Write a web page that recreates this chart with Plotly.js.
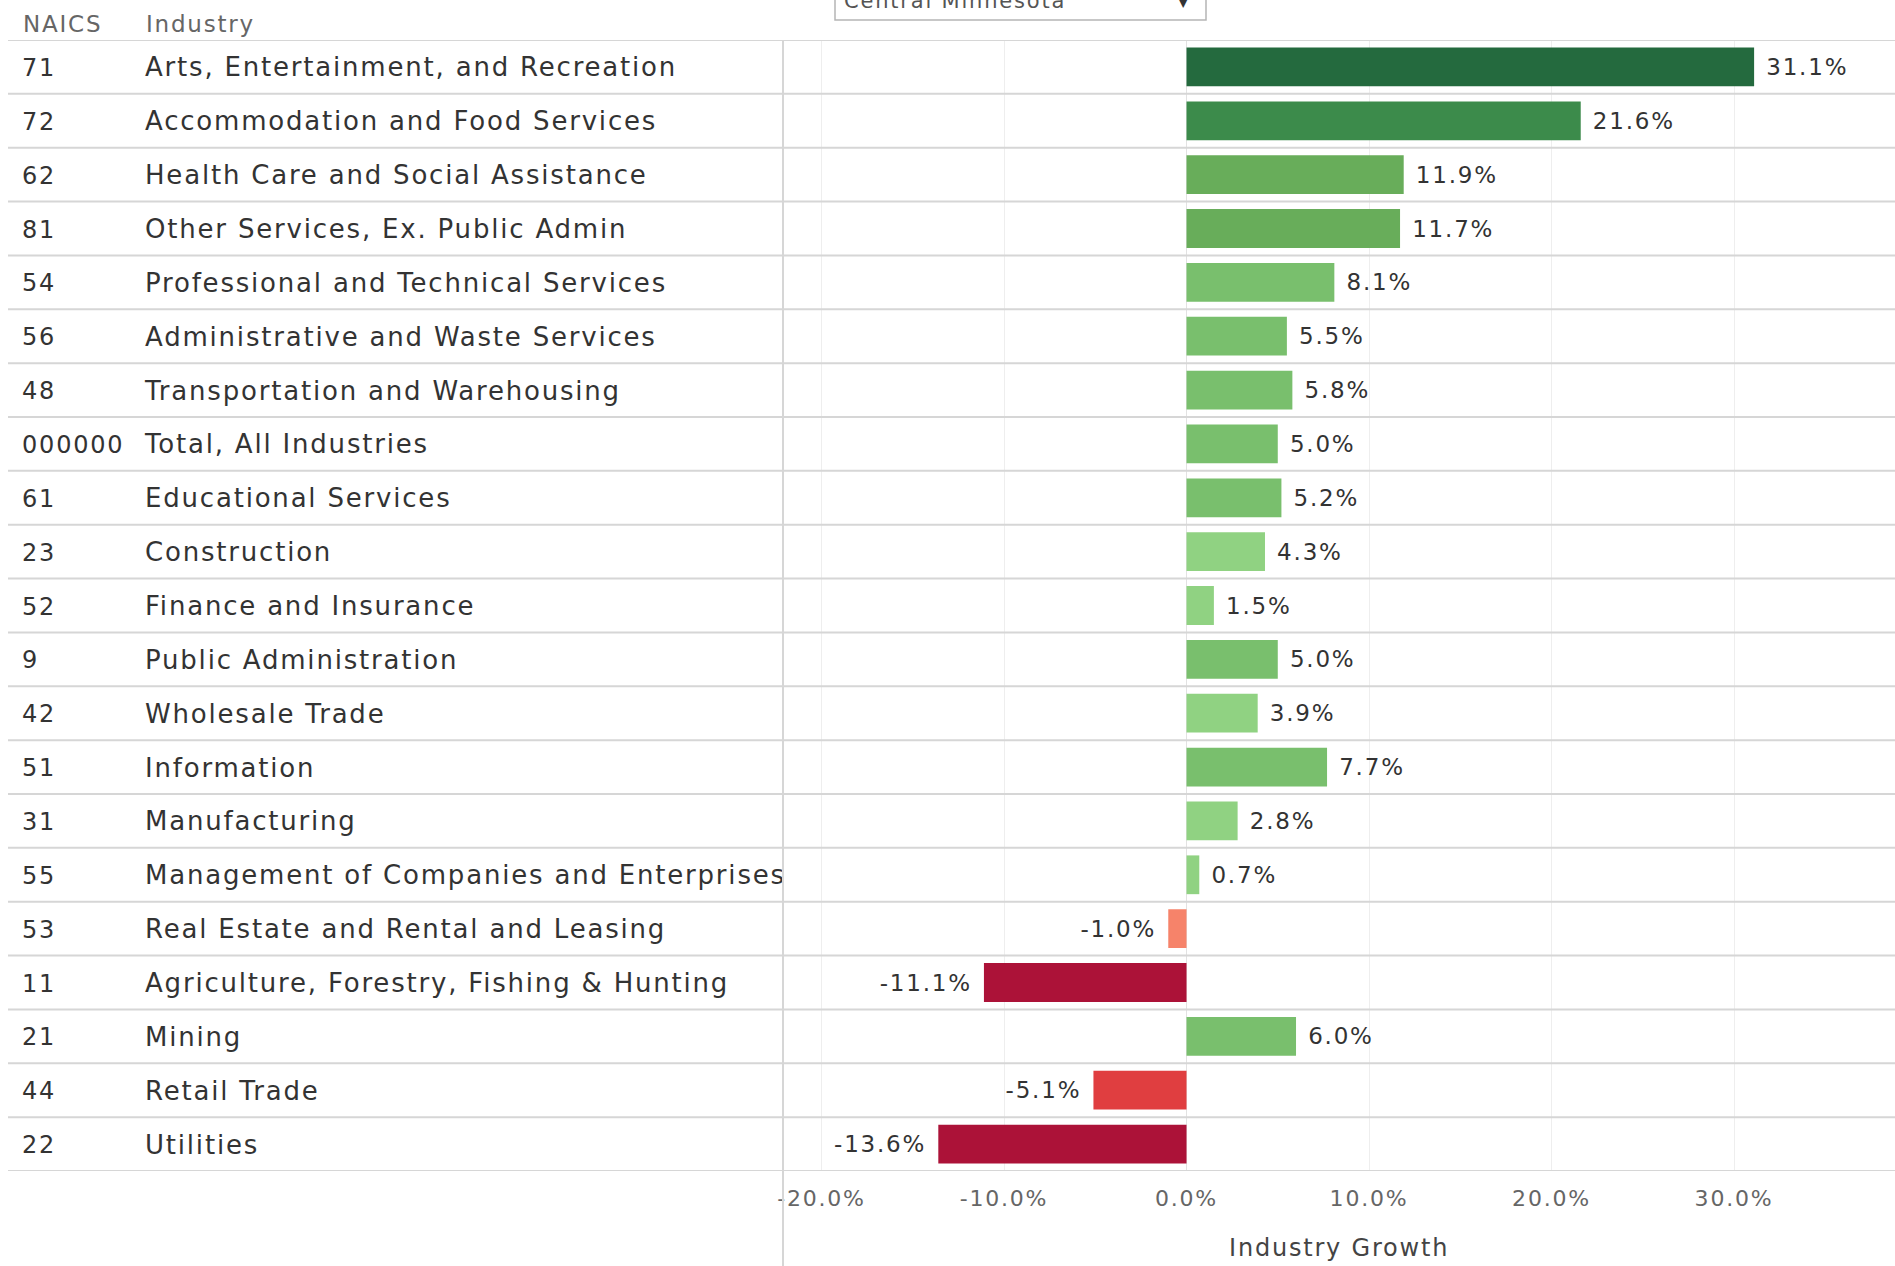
<!DOCTYPE html>
<html>
<head>
<meta charset="utf-8">
<script src="https://cdn.plot.ly/plotly-3.0.1.min.js"></script>
<style>
  html, body { margin: 0; padding: 0; background: #ffffff; }
  #chart { width: 1895px; height: 1266px; }
  svg text { letter-spacing: 1.8px; }
  .textpoint text { transform: translateY(3px); }
</style>
</head>
<body>
<div id="chart"></div>
<script>
// ---- data ----
const naics = ['71','72','62','81','54','56','48','000000','61','23','52','9','42','51','31','55','53','11','21','44','22'];
const industries = [
  'Arts, Entertainment, and Recreation',
  'Accommodation and Food Services',
  'Health Care and Social Assistance',
  'Other Services, Ex. Public Admin',
  'Professional and Technical Services',
  'Administrative and Waste Services',
  'Transportation and Warehousing',
  'Total, All Industries',
  'Educational Services',
  'Construction',
  'Finance and Insurance',
  'Public Administration',
  'Wholesale Trade',
  'Information',
  'Manufacturing',
  'Management of Companies and Enterprises',
  'Real Estate and Rental and Leasing',
  'Agriculture, Forestry, Fishing & Hunting',
  'Mining',
  'Retail Trade',
  'Utilities'
];
const growth = [31.1, 21.6, 11.9, 11.7, 8.1, 5.5, 5.8, 5.0, 5.2, 4.3, 1.5, 5.0, 3.9, 7.7, 2.8, 0.7, -1.0, -11.1, 6.0, -5.1, -13.6];
const tickVals = [-20, -10, 0, 10, 20, 30];
const tickLabels = ['-20.0%', '-10.0%', '0.0%', '10.0%', '20.0%', '30.0%'];
const headers = ['NAICS', 'Industry'];
const regionLabel = 'Central Minnesota';
const axisTitle = 'Industry Growth';

// ---- styling helpers ----
const W = 1895, H = 1266;
const FONT = 'DejaVu Sans';
function stepColor(v) {
  if (v >= 25) return '#246a3e';
  if (v >= 15) return '#3c8b4b';
  if (v >= 10) return '#68ad5a';
  if (v >= 5) return '#79bf6d';
  if (v >= 0) return '#90d282';
  if (v >= -3) return '#f6836a';
  if (v >= -8) return '#e03e40';
  return '#ac1238';
}
const px = x => x / W;            // pixel -> paper x
const py = y => (H - y) / H;      // pixel (from top) -> paper y
const sepX = 783;                  // table / chart separator
const nbsp = '\u00a0';

const barTrace = {
  type: 'bar',
  orientation: 'h',
  x: growth,
  y: industries,
  xaxis: 'x',
  yaxis: 'y',
  width: 0.72,
  marker: { color: growth.map(stepColor), line: { width: 0 } },
  text: growth.map(v => nbsp + v.toFixed(1) + '%' + nbsp),
  textposition: 'outside',
  constraintext: 'none',
  cliponaxis: false,
  textfont: { family: FONT, size: 23, color: '#333333' },
  hoverinfo: 'skip',
  showlegend: false
};

const naicsTrace = {
  type: 'scatter',
  mode: 'text',
  x: naics.map(() => 22),
  y: industries,
  text: naics,
  textposition: 'middle right',
  xaxis: 'x2',
  yaxis: 'y',
  cliponaxis: true,
  textfont: { family: FONT, size: 24, color: '#333333' },
  hoverinfo: 'skip',
  showlegend: false
};

const industryTrace = {
  type: 'scatter',
  mode: 'text',
  x: industries.map(() => 145),
  y: industries,
  text: industries,
  textposition: 'middle right',
  xaxis: 'x2',
  yaxis: 'y',
  cliponaxis: true,
  textfont: { family: FONT, size: 26, color: '#333333' },
  hoverinfo: 'skip',
  showlegend: false
};

// row separator lines
const shapes = [];
for (let i = -1; i < industries.length; i++) {
  shapes.push({
    type: 'line', xref: 'paper', yref: 'y',
    x0: px(8), x1: 1, y0: i + 0.5, y1: i + 0.5,
    line: { color: '#d6d6d6', width: 2 }, layer: 'above'
  });
}
// vertical separator between table and chart
shapes.push({
  type: 'line', xref: 'paper', yref: 'paper',
  x0: px(sepX), x1: px(sepX), y0: 0, y1: py(40),
  line: { color: '#d6d6d6', width: 2 }, layer: 'above'
});
// dropdown box (partially cut off at the top)
shapes.push({
  type: 'rect', xref: 'paper', yref: 'paper',
  x0: px(835), x1: px(1206), y0: py(20), y1: py(-12),
  line: { color: '#b5b5b5', width: 1.5 }, fillcolor: 'rgba(0,0,0,0)'
});

const annotations = [
  { text: headers[0], xref: 'paper', yref: 'paper', x: px(21), y: py(24),
    xanchor: 'left', yanchor: 'middle', showarrow: false,
    font: { family: FONT, size: 23, color: '#666666' } },
  { text: headers[1], xref: 'paper', yref: 'paper', x: px(144), y: py(24),
    xanchor: 'left', yanchor: 'middle', showarrow: false,
    font: { family: FONT, size: 23, color: '#666666' } },
  { text: regionLabel, xref: 'paper', yref: 'paper', x: px(842), y: py(1),
    xanchor: 'left', yanchor: 'middle', showarrow: false,
    font: { family: FONT, size: 21, color: '#555555' } },
  { text: '\u25BC', xref: 'paper', yref: 'paper', x: px(1184), y: py(0),
    xanchor: 'center', yanchor: 'middle', showarrow: false,
    font: { family: FONT, size: 16, color: '#333333' } },
  { text: axisTitle, xref: 'x domain', yref: 'paper', x: 0.5, y: py(1248),
    xanchor: 'center', yanchor: 'middle', showarrow: false,
    font: { family: FONT, size: 24, color: '#444444' } }
];

const layout = {
  width: W, height: H,
  margin: { l: 0, r: 0, t: 0, b: 0, pad: 0 },
  paper_bgcolor: '#ffffff',
  plot_bgcolor: '#ffffff',
  showlegend: false,
  bargap: 0.28,
  xaxis: {
    domain: [px(sepX), 1],
    anchor: 'y',
    range: [-22.11, 38.82],
    tickmode: 'array',
    tickvals: tickVals,
    ticktext: tickLabels,
    ticks: '',
    ticklabelstandoff: 12,
    tickfont: { family: FONT, size: 22, color: '#666666' },
    showgrid: true,
    gridcolor: '#eeeeee',
    gridwidth: 1,
    zeroline: true,
    zerolinecolor: '#e2e2e2',
    zerolinewidth: 1,
    showline: false,
    fixedrange: true
  },
  xaxis2: {
    domain: [0, px(sepX)],
    anchor: 'y',
    range: [0, sepX],
    visible: false,
    showgrid: false,
    zeroline: false,
    fixedrange: true
  },
  yaxis: {
    domain: [py(1171), py(40)],
    anchor: 'x',
    type: 'category',
    categoryorder: 'array',
    categoryarray: industries,
    range: [industries.length - 0.5, -0.5],
    showticklabels: false,
    ticks: '',
    showgrid: false,
    zeroline: false,
    showline: false,
    fixedrange: true
  },
  shapes: shapes,
  annotations: annotations,
  font: { family: FONT, color: '#333333' }
};

Plotly.newPlot('chart', [barTrace, naicsTrace, industryTrace], layout, { displayModeBar: false, staticPlot: true });
</script>
</body>
</html>
